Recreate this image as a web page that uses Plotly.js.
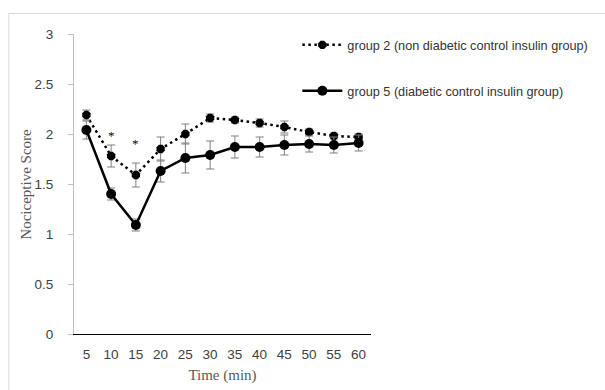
<!DOCTYPE html>
<html>
<head>
<meta charset="utf-8">
<script src="https://cdn.plot.ly/plotly-3.0.1.min.js"></script>
<style>
html,body{margin:0;padding:0;background:#fff;}
#chart{width:605px;height:390px;}
</style>
</head>
<body>
<div id="chart"></div>
<script>
const times = [5, 10, 15, 20, 25, 30, 35, 40, 45, 50, 55, 60];
const group2 = [2.19, 1.78, 1.59, 1.85, 2.00, 2.16, 2.14, 2.11, 2.07, 2.02, 1.98, 1.97];
const group2Err = [0.05, 0.11, 0.12, 0.12, 0.10, 0.04, 0.03, 0.04, 0.06, 0.03, 0.03, 0.03];
const group5 = [2.04, 1.40, 1.09, 1.63, 1.76, 1.79, 1.87, 1.87, 1.89, 1.90, 1.89, 1.91];
const group5Err = [0.09, 0.06, 0.06, 0.11, 0.15, 0.14, 0.11, 0.10, 0.10, 0.08, 0.08, 0.08];
const yTicks = [0, 0.5, 1, 1.5, 2, 2.5, 3];
const yTickText = ['0', '0.5', '1', '1.5', '2', '2.5', '3'];
const starTimes = [10, 15];
const starValues = [2.02, 1.94];
const name2 = 'group 2 (non diabetic control insulin group)';
const name5 = 'group 5 (diabetic control insulin group)';
const yTitle = 'Nociceptive Score';
const xTitle = 'Time (min)';

const traces = [
  {
    x: times, y: group2, name: name2, type: 'scatter', mode: 'lines+markers',
    line: {color: '#000', width: 2.5, dash: '2.5px,3.5px'},
    marker: {color: '#000', size: 9, symbol: 'octagon'},
    error_y: {type: 'data', array: group2Err, visible: true, color: '#7f7f7f', thickness: 1, width: 4},
    legend: 'legend'
  },
  {
    x: times, y: group5, name: name5, type: 'scatter', mode: 'lines+markers',
    line: {color: '#000', width: 2.5},
    marker: {color: '#000', size: 10, symbol: 'circle'},
    error_y: {type: 'data', array: group5Err, visible: true, color: '#7f7f7f', thickness: 1, width: 4},
    legend: 'legend2'
  }
];

const annotations = starTimes.map((t, i) => ({
  x: t, y: starValues[i], xref: 'x', yref: 'y', text: '*', showarrow: false,
  font: {family: 'Liberation Serif, serif', size: 13, color: '#000'}, yanchor: 'middle', yshift: -3
}));
annotations.push({
  x: (25 - 74) / 301, y: 0.5, xref: 'paper', yref: 'paper', text: yTitle, showarrow: false,
  textangle: -90, xanchor: 'center', yanchor: 'middle',
  font: {family: 'Liberation Serif, serif', size: 15, color: '#595959'}
});

const legendFont = {family: 'Liberation Sans, Arial, sans-serif', size: 12.7, color: '#333333'};

const layout = {
  width: 605, height: 390,
  margin: {l: 74, r: 230, t: 34, b: 56},
  paper_bgcolor: '#fff', plot_bgcolor: '#fff',
  showlegend: true,
  legend: {x: 0.752, y: 0.963, xanchor: 'left', yanchor: 'middle', font: legendFont, bgcolor: 'rgba(0,0,0,0)', borderwidth: 0, itemwidth: 40},
  legend2: {x: 0.752, y: 0.81, xanchor: 'left', yanchor: 'middle', font: legendFont, bgcolor: 'rgba(0,0,0,0)', borderwidth: 0, itemwidth: 40},
  xaxis: {
    range: [2.5, 62.5], tickmode: 'array', tickvals: times, ticktext: times.map(String),
    showline: true, linecolor: '#000', linewidth: 1, ticks: '', showgrid: false, zeroline: false,
    ticklabelstandoff: 8,
    tickfont: {family: 'Liberation Sans, Arial, sans-serif', size: 13.5, color: '#404040'},
    title: {text: xTitle, font: {family: 'Liberation Serif, serif', size: 15, color: '#595959'}, standoff: 8},
    fixedrange: true
  },
  yaxis: {
    range: [0, 3], tickmode: 'array', tickvals: yTicks, ticktext: yTickText,
    showline: true, linecolor: '#bfbfbf', linewidth: 1, ticks: 'outside', ticklen: 5, tickcolor: '#bfbfbf',
    showgrid: false, zeroline: false,
    ticklabelstandoff: 12,
    tickfont: {family: 'Liberation Sans, Arial, sans-serif', size: 13.5, color: '#404040'},
    fixedrange: true
  },
  annotations: annotations,
  shapes: [{
    type: 'rect', xref: 'paper', yref: 'paper',
    x0: (8 - 74) / 301, x1: (620 - 74) / 301, y0: (334 - 400) / 300, y1: (334 - 13.5) / 300,
    line: {color: '#d9d9d9', width: 1}, fillcolor: 'rgba(0,0,0,0)', layer: 'below'
  }]
};

Plotly.newPlot('chart', traces, layout, {displayModeBar: false, staticPlot: true});
</script>
</body>
</html>
